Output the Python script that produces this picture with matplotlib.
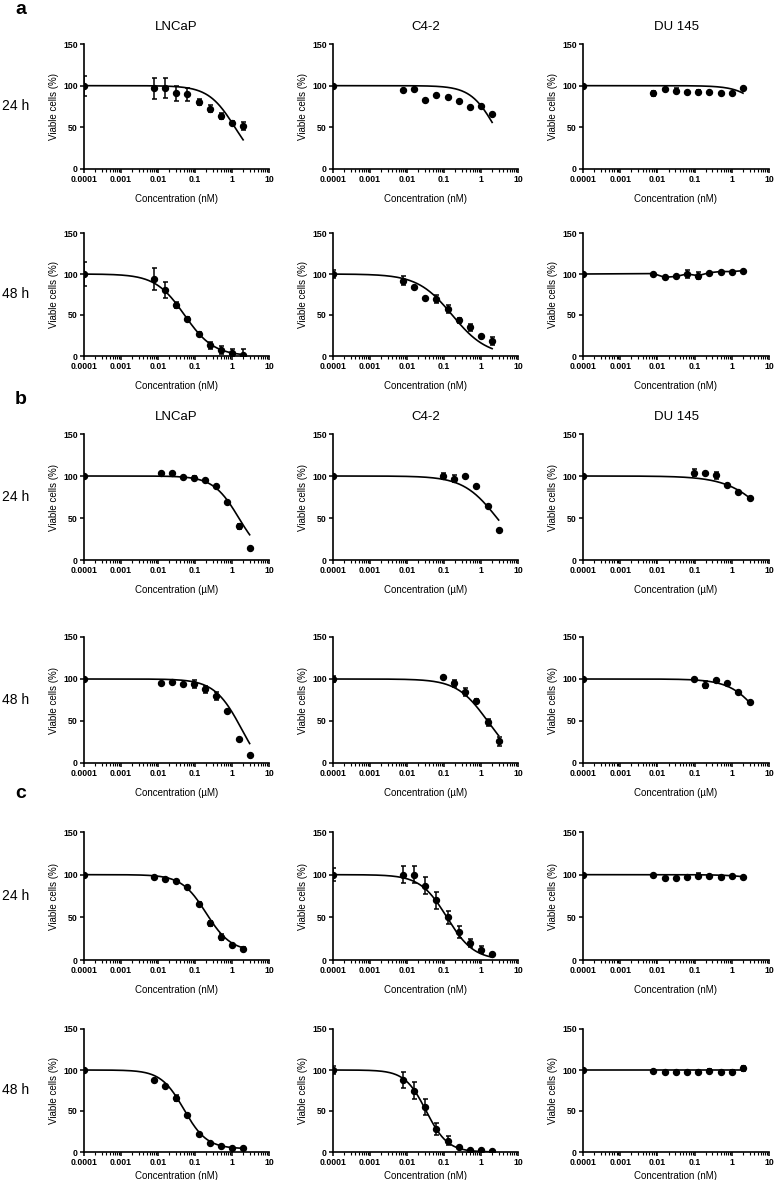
import numpy as np
import matplotlib
matplotlib.use("Agg")
import matplotlib.pyplot as plt
from matplotlib.ticker import LogLocator, FixedLocator, NullFormatter

plt.rcParams['font.family'] = ['Liberation Sans', 'DejaVu Sans']

# concentrations (control plotted at 0.0001)
conc_nM = [0.0001, 0.0078125, 0.015625, 0.03125, 0.0625, 0.125, 0.25, 0.5, 1, 2]
conc_uM_long = [0.0001, 0.01171875, 0.0234375, 0.046875, 0.09375, 0.1875, 0.375, 0.75, 1.5, 3]
conc_uM_short = [0.0001, 0.09375, 0.1875, 0.375, 0.75, 1.5, 3]

cell_lines = ['LNCaP', 'C4-2', 'DU 145']
times = ['24 h', '48 h']
sections = ['a', 'b', 'c']

# --- section a (nM) ---
a_lncap_24 = [100, 96.8, 96.8, 90.7, 89.5, 80.6, 72.5, 63.6, 55.5, 51.4]
a_lncap_24_err = [12, 13, 12, 9, 8, 4, 4, 4, 2, 5]
a_c42_24 = [100, 94.7, 96, 83, 88.7, 86.6, 81.8, 74.5, 75.7, 65.6]
a_c42_24_err = [0, 1, 1, 1, 1, 1, 1, 1, 1, 1]
a_du_24 = [100, 91, 96, 94, 92.7, 92.7, 93, 91, 91.5, 96.8]
a_du_24_err = [0, 3, 1, 3, 1, 2, 1, 1, 1, 1]
a_lncap_48 = [100, 94, 80.6, 62, 45, 27, 13, 7, 3.6, 1]
a_lncap_48_err = [15, 13, 10, 4, 2, 2, 4, 5, 5, 7]
a_c42_48 = [100, 92, 84, 71, 69.6, 57, 43.3, 35, 25, 18]
a_c42_48_err = [5, 5, 1, 1, 5, 5, 3, 4, 1, 5]
a_du_48 = [100, 100.5, 96, 97, 100, 98, 101.6, 103, 103, 104]
a_du_48_err = [0, 1, 2, 1, 5, 4, 1, 1, 1, 1]

# --- section b (uM) ---
b_lncap_24 = [100, 103.6, 103.6, 99, 98, 95, 88, 69, 40.3, 14.5]
b_lncap_24_err = [0, 1, 1, 1, 2, 1, 1, 1, 3, 1]
b_c42_24 = [100, 100, 97, 100, 88, 64.5, 36]
b_c42_24_err = [0, 3, 4, 1, 1, 1, 1]
b_du_24 = [100, 104, 103, 101, 89, 80.6, 73.8]
b_du_24_err = [0, 4, 1, 4, 2, 1, 1]
b_lncap_48 = [100, 95, 96, 93.7, 93.7, 87.7, 79.8, 61.5, 28, 9]
b_lncap_48_err = [0, 1, 1, 1, 5, 4, 5, 1, 1, 1]
b_c42_48 = [100, 102.7, 95, 84.5, 73.6, 48.4, 25.6]
b_c42_48_err = [3, 1, 4, 5, 2, 4, 5]
b_du_48 = [100, 100, 93.4, 99, 95, 84.5, 72.9]
b_du_48_err = [0, 1, 4, 1, 1, 1, 1]

# --- section c (nM) ---
c_lncap_24 = [100, 97, 95, 92, 86, 66, 43, 27, 17, 13]
c_lncap_24_err = [0, 1, 1, 1, 1, 2, 3, 4, 2, 2]
c_c42_24 = [100, 100, 100, 87, 70, 50, 33, 20, 12, 7]
c_c42_24_err = [8, 10, 10, 10, 10, 8, 7, 5, 4, 1]
c_du_24 = [100, 100, 96, 96, 97, 99, 98, 97, 98, 97]
c_du_24_err = [0, 1, 1, 1, 1, 3, 1, 1, 1, 1]
c_lncap_48 = [100, 88, 80, 66, 45, 22, 11, 7, 5, 5]
c_lncap_48_err = [0, 1, 1, 4, 1, 1, 1, 1, 1, 1]
c_c42_48 = [100, 88, 75, 55, 28, 14, 6, 3, 2, 1]
c_c42_48_err = [5, 10, 10, 10, 7, 5, 1, 1, 1, 1]
c_du_48 = [100, 99, 98, 98, 97, 98, 99, 98, 98, 102]
c_du_48_err = [0, 1, 1, 1, 1, 1, 2, 1, 2, 3]

# fitted curve parameters: [top, bottom, IC50, hill]; None -> points joined
fit_a = [[100, 0, 1.2, 1.21], [100, 0, 2.4, 1.31], [100, 0, 12.9, 1.24],
         [100, 0, 0.052, 1.1], [100, 0, 0.166, 0.93], None]
fit_b = [[100, 0, 1.53, 1.255], [100, 0, 2.71, 0.95], [100, 0, 11.5, 0.78],
         [100, -20, 1.84, 1.18], [100, 0, 1.5, 1.05], [100, 0, 7.5, 1.03]]
fit_c = [[100, 10, 0.2, 1.3], [100, 0, 0.12, 1.2], [100, 0, 80, 1.0],
         [100, 4, 0.05, 1.4], [100, 0, 0.033, 1.5], [100, 0, 1e5, 1.0]]

# axes boxes in pixels
col_left = [84, 333, 583]
col_width = [185, 185, 186]
row_box = [(44, 169), (233, 356), (434, 560), (637, 763), (832, 960), (1029, 1152)]
section_y = [10, 400, 793]

W, H = 783, 1180
fig = plt.figure(figsize=(W / 100, H / 100), dpi=100)


def hill(x, p):
    top, bottom, ic50, h = p
    return bottom + (top - bottom) / (1 + (x / ic50) ** h)


panels = {
    'a': (conc_nM, 'Concentration (nM)',
          [[a_lncap_24, a_c42_24, a_du_24], [a_lncap_48, a_c42_48, a_du_48]],
          [[a_lncap_24_err, a_c42_24_err, a_du_24_err], [a_lncap_48_err, a_c42_48_err, a_du_48_err]],
          fit_a),
    'b': (None, 'Concentration (\u00b5M)',
          [[b_lncap_24, b_c42_24, b_du_24], [b_lncap_48, b_c42_48, b_du_48]],
          [[b_lncap_24_err, b_c42_24_err, b_du_24_err], [b_lncap_48_err, b_c42_48_err, b_du_48_err]],
          fit_b),
    'c': (conc_nM, 'Concentration (nM)',
          [[c_lncap_24, c_c42_24, c_du_24], [c_lncap_48, c_c42_48, c_du_48]],
          [[c_lncap_24_err, c_c42_24_err, c_du_24_err], [c_lncap_48_err, c_c42_48_err, c_du_48_err]],
          fit_c),
}

for si, sec in enumerate(sections):
    conc, xlabel, vals, errs, fits = panels[sec]
    fig.text(15 / W, 1 - section_y[si] / H, sec, fontsize=14, fontweight='bold',
             ha='left', va='center')
    for ti in range(2):
        top_px, bot_px = row_box[si * 2 + ti]
        fig.text(16 / W, 1 - (top_px + bot_px) / 2 / H, times[ti], fontsize=10,
                 ha='center', va='center')
        for ci in range(3):
            ax = fig.add_axes([col_left[ci] / W, 1 - bot_px / H,
                               col_width[ci] / W, (bot_px - top_px) / H])
            if conc is None:
                x = conc_uM_long if ci == 0 else conc_uM_short
            else:
                x = conc
            y = vals[ti][ci]
            e = errs[ti][ci]
            p = fits[ti * 3 + ci]
            if p is None:
                ax.plot(x, y, color='black', lw=1.2)
            else:
                xs = np.logspace(np.log10(x[0]), np.log10(x[-1]), 200)
                ax.plot(xs, hill(xs, p), color='black', lw=1.2)
            ax.errorbar(x, y, yerr=e, fmt='o', color='black', ms=4.3,
                        elinewidth=1.1, capsize=1.8, capthick=1.1)
            ax.set_xscale('log')
            ax.set_xlim(0.0001, 10)
            ax.set_ylim(0, 150)
            ax.set_yticks([0, 50, 100, 150])
            ax.xaxis.set_major_locator(FixedLocator([0.0001, 0.001, 0.01, 0.1, 1, 10]))
            ax.set_xticklabels(['0.0001', '0.001', '0.01', '0.1', '1', '10'])
            ax.xaxis.set_minor_locator(LogLocator(base=10, subs=np.arange(2, 10), numticks=20))
            ax.xaxis.set_minor_formatter(NullFormatter())
            for s in ['top', 'right']:
                ax.spines[s].set_visible(False)
            for s in ['left', 'bottom']:
                ax.spines[s].set_linewidth(1.2)
            ax.tick_params(axis='both', which='major', direction='out', length=3,
                           width=1.1, labelsize=6.3, pad=1.5)
            ax.tick_params(axis='x', which='minor', direction='out', length=1.8, width=0.8)
            for lab in ax.get_xticklabels() + ax.get_yticklabels():
                lab.set_fontweight('bold')
            last_row = (si == 2 and ti == 1)
            ax.set_xlabel(xlabel, fontsize=7, labelpad=3 if last_row else 7)
            ax.set_ylabel('Viable cells (%)', fontsize=7, labelpad=3)
            ax.patch.set_alpha(0)
            if ti == 0 and sec != 'c':
                ax.set_title(cell_lines[ci], fontsize=9.5, pad=10)

fig.savefig('out.png', dpi=100)
